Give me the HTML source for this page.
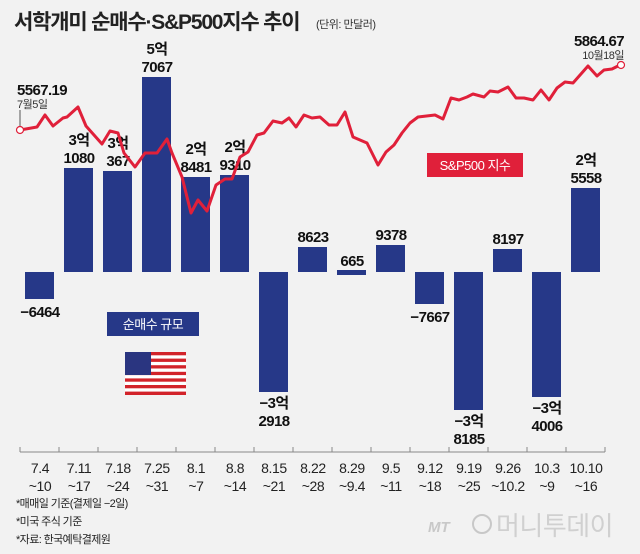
<!DOCTYPE html>
<html><head><meta charset="utf-8"><style>
html,body{margin:0;padding:0;background:#f2f2f2;}
svg{display:block;}
text{font-family:"Liberation Sans Narrow","Liberation Sans","Noto Sans CJK KR",sans-serif;}
.k{font-family:"Liberation Sans","Noto Sans CJK KR",sans-serif;}
</style></head><body>
<svg width="640" height="554" viewBox="0 0 640 554" xmlns="http://www.w3.org/2000/svg">
<rect width="640" height="554" fill="#f2f2f2"/>
<text x="14" y="29" class="k" font-size="21" font-weight="bold" fill="#222" letter-spacing="-1.2">서학개미 순매수·S&amp;P500지수 추이</text>
<text x="316" y="28" class="k" font-size="11" fill="#333" letter-spacing="-0.5">(단위: 만달러)</text>

<g fill="#263888">
<rect x="25" y="272" width="29" height="27"/>
<rect x="64" y="168" width="29" height="104"/>
<rect x="103" y="171" width="29" height="101"/>
<rect x="142" y="77" width="29" height="195"/>
<rect x="181" y="177" width="29" height="95"/>
<rect x="220" y="175" width="29" height="97"/>
<rect x="259" y="272" width="29" height="120"/>
<rect x="298" y="247" width="29" height="25"/>
<rect x="337" y="270" width="29" height="5"/>
<rect x="376" y="245" width="29" height="27"/>
<rect x="415" y="272" width="29" height="32"/>
<rect x="454" y="272" width="29" height="138"/>
<rect x="493" y="249" width="29" height="23"/>
<rect x="532" y="272" width="29" height="125"/>
<rect x="571" y="188" width="29" height="84"/>
</g>

<g font-size="15" font-weight="bold" fill="#111" text-anchor="middle" letter-spacing="-0.6">
<text x="40" y="317">−6464</text>
<text x="79" y="145">3억</text><text x="79" y="163">1080</text>
<text x="118" y="148">3억</text><text x="118" y="166">367</text>
<text x="157" y="54">5억</text><text x="157" y="72">7067</text>
<text x="196" y="154">2억</text><text x="196" y="172">8481</text>
<text x="235" y="152">2억</text><text x="235" y="170">9310</text>
<text x="274" y="408">−3억</text><text x="274" y="426">2918</text>
<text x="313" y="242">8623</text>
<text x="352" y="266">665</text>
<text x="391" y="240">9378</text>
<text x="430" y="322">−7667</text>
<text x="469" y="426">−3억</text><text x="469" y="444">8185</text>
<text x="508" y="244">8197</text>
<text x="547" y="413">−3억</text><text x="547" y="431">4006</text>
<text x="586" y="165">2억</text><text x="586" y="183">5558</text>
</g>

<polyline fill="none" stroke="#e0203a" stroke-width="3" stroke-linejoin="round" points="20,130 37,127 45,115 53,126 63,118 67,117 78,107 86,126 102,144 110,131 118,133 124,153 135,167 145,153 157,153 167,139 172,153 182,177 191,213 198,200 207,211 216,185 225,179 232,179 240,157 248,152 257,135 264,133 273,121 282,123 289,118 296,127 304,115 312,118 320,117 329,125 337,125 345,112 353,137 367,143 378,165 386,152 394,145 402,133 410,123 418,117 435,115 443,119 451,98 459,100 467,97 473,94 484,97 490,91 498,92 508,87 516,98 524,98 533,100 541,90 549,100 557,88 565,82 573,83 588,66 597,76 604,70 612,69 620,65"/>
<circle cx="20" cy="130" r="3.5" fill="#fff" stroke="#e0203a" stroke-width="1.2"/>
<circle cx="621" cy="65" r="3.5" fill="#fff" stroke="#e0203a" stroke-width="1.2"/>
<line x1="20" y1="110" x2="20" y2="126" stroke="#555" stroke-width="1"/>
<text x="17" y="95" font-size="15" font-weight="bold" fill="#111" letter-spacing="-0.6">5567.19</text>
<text x="17" y="108" class="k" font-size="11" fill="#333" letter-spacing="-0.5">7월5일</text>
<text x="624" y="46" font-size="15" font-weight="bold" fill="#111" text-anchor="end" letter-spacing="-0.6">5864.67</text>
<text x="624" y="59" class="k" font-size="11" fill="#333" text-anchor="end" letter-spacing="-0.5">10월18일</text>

<rect x="427" y="153" width="96" height="24" fill="#e0203a"/>
<text x="475" y="170" class="k" font-size="13" fill="#fff" text-anchor="middle" letter-spacing="-0.5">S&amp;P500 지수</text>
<rect x="107" y="312" width="92" height="24" fill="#263888"/>
<text x="153" y="329" class="k" font-size="13" fill="#fff" text-anchor="middle" letter-spacing="-0.5">순매수 규모</text>

<g>
<rect x="125" y="352" width="61" height="43" fill="#fff"/>
<g fill="#d2232a">
<rect x="125" y="352" width="61" height="3.3"/><rect x="125" y="358.6" width="61" height="3.3"/><rect x="125" y="365.2" width="61" height="3.3"/><rect x="125" y="371.8" width="61" height="3.3"/><rect x="125" y="378.4" width="61" height="3.3"/><rect x="125" y="385" width="61" height="3.3"/><rect x="125" y="391.6" width="61" height="3.4"/>
</g>
<rect x="125" y="352" width="26" height="23" fill="#2a3580"/>
</g>

<line x1="20" y1="452" x2="605" y2="452" stroke="#888" stroke-width="1"/>
<g stroke="#888" stroke-width="1">
<line x1="20" y1="447" x2="20" y2="452"/><line x1="59" y1="447" x2="59" y2="452"/><line x1="98" y1="447" x2="98" y2="452"/><line x1="137" y1="447" x2="137" y2="452"/><line x1="176" y1="447" x2="176" y2="452"/><line x1="215" y1="447" x2="215" y2="452"/><line x1="254" y1="447" x2="254" y2="452"/><line x1="293" y1="447" x2="293" y2="452"/><line x1="332" y1="447" x2="332" y2="452"/><line x1="371" y1="447" x2="371" y2="452"/><line x1="410" y1="447" x2="410" y2="452"/><line x1="449" y1="447" x2="449" y2="452"/><line x1="488" y1="447" x2="488" y2="452"/><line x1="527" y1="447" x2="527" y2="452"/><line x1="566" y1="447" x2="566" y2="452"/><line x1="605" y1="447" x2="605" y2="452"/>
</g>
<g font-size="14" fill="#222" text-anchor="middle" letter-spacing="-0.4">
<text x="40" y="473">7.4</text><text x="40" y="491">~10</text>
<text x="79" y="473">7.11</text><text x="79" y="491">~17</text>
<text x="118" y="473">7.18</text><text x="118" y="491">~24</text>
<text x="157" y="473">7.25</text><text x="157" y="491">~31</text>
<text x="196" y="473">8.1</text><text x="196" y="491">~7</text>
<text x="235" y="473">8.8</text><text x="235" y="491">~14</text>
<text x="274" y="473">8.15</text><text x="274" y="491">~21</text>
<text x="313" y="473">8.22</text><text x="313" y="491">~28</text>
<text x="352" y="473">8.29</text><text x="352" y="491">~9.4</text>
<text x="391" y="473">9.5</text><text x="391" y="491">~11</text>
<text x="430" y="473">9.12</text><text x="430" y="491">~18</text>
<text x="469" y="473">9.19</text><text x="469" y="491">~25</text>
<text x="508" y="473">9.26</text><text x="508" y="491">~10.2</text>
<text x="547" y="473">10.3</text><text x="547" y="491">~9</text>
<text x="586" y="473">10.10</text><text x="586" y="491">~16</text>
</g>
<g class="k" font-size="11" fill="#222" letter-spacing="-0.6">
<text x="16" y="507">*매매일 기준(결제일 −2일)</text>
<text x="16" y="525">*미국 주식 기준</text>
<text x="16" y="543">*자료: 한국예탁결제원</text>
</g>
<text x="428" y="532" font-size="15" font-style="italic" font-weight="bold" fill="#c8c8c8">MT</text>
<circle cx="482" cy="524" r="9" fill="none" stroke="#c8c8c8" stroke-width="2"/>
<text x="496" y="535" class="k" font-size="26" fill="#d0d0d0" letter-spacing="-0.5">머니투데이</text>
</svg>
</body></html>
